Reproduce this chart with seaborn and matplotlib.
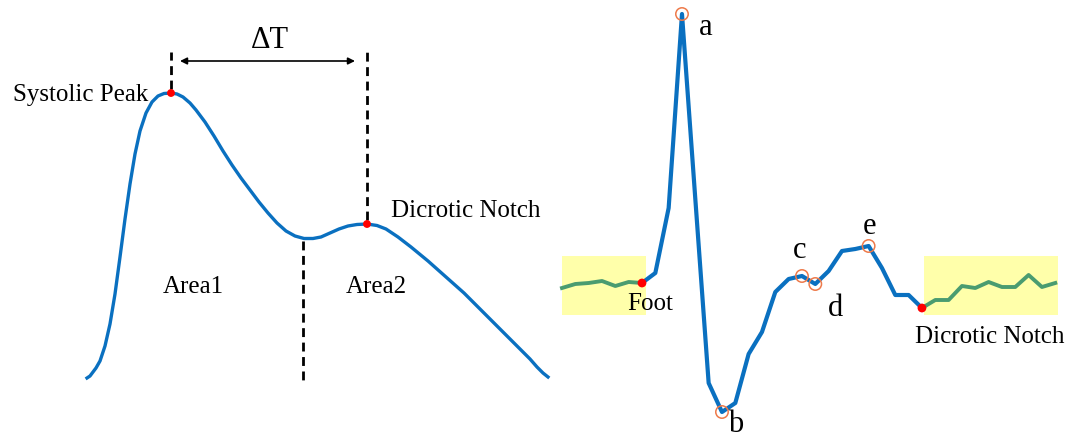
import seaborn as sns
import matplotlib.pyplot as plt
import pandas as pd
from matplotlib.patches import Rectangle

# PPG pulse (left panel), time in samples, amplitude in arbitrary units
ppg_t = [0, 3, 6, 9, 13, 18, 23, 28, 33, 38, 43, 48, 53, 59, 65, 71, 77, 84, 90, 96, 103,
         109, 118, 127, 136, 145, 154, 163, 172, 181, 190, 199, 208, 217, 226, 234, 243,
         252, 261, 270, 280, 290, 299, 311, 324, 341, 359, 377, 395, 413, 431, 443, 450,
         456, 461]
ppg_amp = [0, 2, 6, 10, 17, 32, 54, 84, 121, 159, 194, 224, 247, 265, 276, 282, 284.5,
           285, 284, 281, 275, 268, 256, 242, 227, 213, 200, 188, 176, 165, 155, 147,
           142, 139.5, 139.5, 141, 145, 149, 152, 153.5, 154, 152.5, 149, 141, 131, 117,
           101, 85, 67, 49, 31, 19, 11, 5, 1]
peak_t, peak_amp = 84, 285
notch_t, notch_amp = 280, 154
valley_t, valley_amp = 216, 139

# second derivative (right panel), sample index and amplitude
sdppg_idx = list(range(6, 28))
sdppg_amp = [16, 26, 91, 285, 100, -84, -113, -104, -55, -33, 7, 20, 23, 15, 28, 48, 50,
             53, 31, 4, 4, -9]
pre_idx = list(range(0, 7))
pre_amp = [11, 15, 16, 18, 13, 17, 16]
post_idx = list(range(27, 38))
post_amp = [-9, -1, -1, 13, 11, 17, 12, 12, 24, 12, 16]
wave_names = ['a', 'b', 'c', 'd', 'e']
wave_idx = [9, 12, 18, 19, 23]

blue = '#0a70c0'
green = '#4a9c70'
orange = '#ee7a4a'

plt.rcParams['font.family'] = ['Liberation Serif', 'DejaVu Serif']

fig = plt.figure(figsize=(10.79, 4.39), dpi=100)
ax1 = fig.add_axes([0, 0, 555 / 1079, 1])
ax2 = fig.add_axes([555 / 1079, 0, 524 / 1079, 1])

# ---- left panel
ppg = pd.DataFrame({'t': ppg_t, 'amp': ppg_amp})
sns.lineplot(data=ppg, x='t', y='amp', ax=ax1, color=blue, linewidth=2.4)
dash = dict(color='black', linewidth=2, linestyle=(0, (3.2, 2)))
ax1.plot([peak_t, peak_t], [peak_amp + 4, 326], **dash)
ax1.plot([notch_t, notch_t], [notch_amp + 4, 326], **dash)
ax1.plot([valley_t, valley_t], [valley_amp - 2, -6], **dash)
ax1.annotate('', xy=(93, 317), xytext=(268, 317),
             arrowprops=dict(arrowstyle='<|-|>', color='black', lw=1.2,
                             mutation_scale=10, shrinkA=0, shrinkB=0))
sns.scatterplot(x=[peak_t, notch_t], y=[peak_amp, notch_amp], ax=ax1, color='red',
                s=32, edgecolor='none', zorder=5)
ax1.text(183, 338, 'ΔT', fontsize=22, ha='center', va='center')
ax1.text(61, 284, 'Systolic Peak', fontsize=18, ha='right', va='center')
ax1.text(304, 168, 'Dicrotic Notch', fontsize=18, ha='left', va='center')
ax1.text(106, 92, 'Area1', fontsize=18, ha='center', va='center')
ax1.text(289, 92, 'Area2', fontsize=18, ha='center', va='center')
ax1.set_xlim(-87, 468)
ax1.set_ylim(-60, 379)
ax1.axis('off')

# ---- right panel
ax2.add_patch(Rectangle((0, -16), 6.3, 59, color='#ffffaa', zorder=0, lw=0))
ax2.add_patch(Rectangle((27.15, -16), 10.05, 59, color='#ffffaa', zorder=0, lw=0))
sns.lineplot(x=pre_idx, y=pre_amp, ax=ax2, color=green, linewidth=2.8)
sns.lineplot(x=post_idx, y=post_amp, ax=ax2, color=green, linewidth=2.8)
sns.lineplot(x=sdppg_idx, y=sdppg_amp, ax=ax2, color=blue, linewidth=3)
wave_amp = [sdppg_amp[sdppg_idx.index(i)] for i in wave_idx]
ax2.scatter(wave_idx, wave_amp, s=80, facecolors='none', edgecolors=orange,
            linewidths=1.1, zorder=5)
sns.scatterplot(x=[6, 27], y=[sdppg_amp[0], sdppg_amp[-1]], ax=ax2, color='red',
                s=40, edgecolor='none', zorder=6)
label_pos = [(10.8, 273), (13.05, -125), (17.85, 49), (20.48, -8), (23.03, 73)]
for name, (lx, ly) in zip(wave_names, label_pos):
    ax2.text(lx, ly, name, fontsize=22, ha='center', va='center')
ax2.text(6.6, -4, 'Foot', fontsize=18, ha='center', va='center')
ax2.text(32.1, -37, 'Dicrotic Notch', fontsize=18, ha='center', va='center')
ax2.set_xlim(-0.525, 38.78)
ax2.set_ylim(-139, 300)
ax2.axis('off')

fig.savefig('out.png', dpi=100)
